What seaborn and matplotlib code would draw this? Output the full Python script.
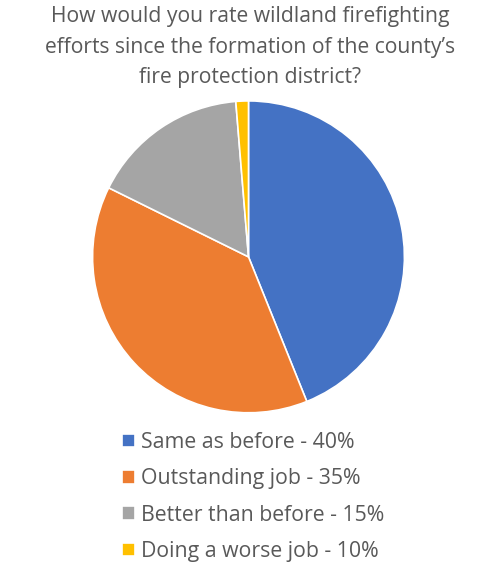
import matplotlib
matplotlib.use("Agg")
import matplotlib.pyplot as plt
import seaborn as sns

# 数据 (从图中读取的扇区大小, 图例文字照原图)
categories = ["Same as before - 40%", "Outstanding job - 35%",
              "Better than before - 15%", "Doing a worse job - 10%"]
shares = [43.9, 38.4, 16.4, 1.3]
colors = ["#4472C4", "#ED7D31", "#A5A5A5", "#FFC000"]
title = ("How would you rate wildland firefighting\n"
         "efforts since the formation of the county\u2019s\n"
         "fire protection district?")

sns.set_theme(style="white")
plt.rcParams['font.family'] = ['Open Sans', 'DejaVu Sans']
pal = sns.color_palette(colors)

fig = plt.figure(figsize=(5, 5.67), dpi=100)
ax = fig.add_axes([0.185, 0.272, 0.624, 0.550])
wedges, _ = ax.pie(shares, colors=pal, startangle=90, counterclock=False,
                   wedgeprops=dict(edgecolor="white", linewidth=1.2))
ax.set_xlim(-1, 1)
ax.set_ylim(-1, 1)
ax.set_aspect("equal")

fig.text(0.5, 1 - 6 / 567, title, ha="center", va="top", fontsize=15.2,
         color="#595959", linespacing=1.6)

fig.legend(wedges, categories, loc="upper left", bbox_to_anchor=(0.226, 0.253),
           frameon=False, fontsize=15.3, labelcolor="#595959",
           handlelength=0.62, handleheight=0.62, handletextpad=0.28,
           labelspacing=0.72, borderaxespad=0)

fig.savefig("out.png", dpi=100)
